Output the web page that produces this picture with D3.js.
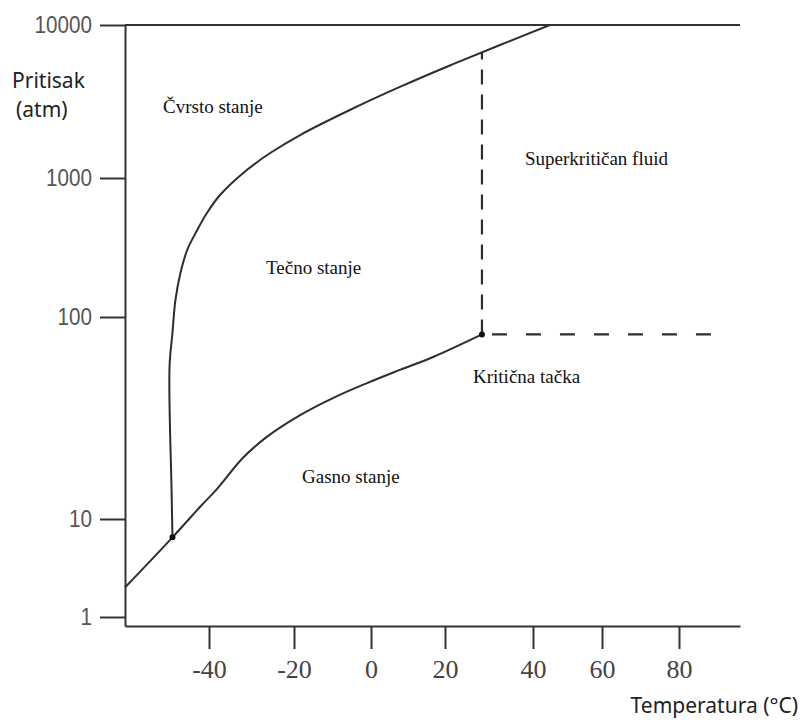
<!DOCTYPE html>
<html>
<head>
<meta charset="utf-8">
<script src="https://cdn.jsdelivr.net/npm/d3@7"></script>
<style>
  body { margin: 0; background: #fff; }
  svg { display: block; }
</style>
</head>
<body>
<svg id="chart"></svg>
<script>
// Podaci (ocitani sa dijagrama)
const tempTicks = [-40, -20, 0, 20, 40, 60, 80];
const pressureTicks = [1, 10, 100, 1000, 10000];

// kriva topljenja (cvrsto / tecno)
const meltT = [-48.7, -48.9, -49.4, -48.7, -48.0, -46.8, -45.2, -42.8, -40.5, -37.4, -31.1, -25.6, -18.4, -5.5, 7.8, 21.1, 32.5, 44.9];
const meltP = [6.5, 13.5, 56.5, 83.4, 132, 207, 303, 423, 560, 755, 1128, 1456, 1910, 2782, 3936, 5433, 7396, 10000];

// kriva isparavanja (gas / tecno)
const vapT = [-60, -48.7, -42.1, -38.1, -32.0, -26.4, -18.4, -9.9, -1.0, 7.8, 16.8, 28.4];
const vapP = [2.0, 6.5, 11.5, 14.1, 20.1, 25.5, 32.7, 39.7, 47.1, 54.7, 63.4, 82];

const triplePoint = { t: -48.7, p: 6.5 };
const criticalPoint = { t: 28.4, p: 82 };
const dashTopP = 6600;   // gde isprekidana linija sece krivu topljenja
const dashEndT = 93;

const regionNames = ["Čvrsto stanje", "Tečno stanje", "Superkritičan fluid", "Kritična tačka", "Gasno stanje"];

// Dimenzije
const width = 800;
const height = 720;

const svg = d3.select("#chart")
    .attr("width", width)
    .attr("height", height);

// Skala X - rucno crtana osa, razmaci nisu jednaki
const x = d3.scaleLinear()
    .domain([-60, -40, -20, 0, 20, 40, 60, 80, 96])
    .range([125, 209, 294, 371, 445, 533, 602, 679, 740]);

// Skala Y - logaritamska, takodje neravnomerna
const yLog = d3.scaleLinear()
    .domain([Math.log10(0.8), 0, 1, 2, 3, 4])
    .range([626, 617, 519, 317, 178, 25]);
const y = p => yLog(Math.log10(p));

const lineColor = "#2e2e2e";

// Osa X
const xAxis = svg.append("g")
    .attr("transform", `translate(0,${y(0.8)})`)
    .call(d3.axisBottom(x)
        .tickValues(tempTicks)
        .tickFormat(d => String(d))
        .tickSize(23)
        .tickSizeOuter(0)
        .tickPadding(11));
xAxis.select(".domain").attr("stroke", "#333").attr("stroke-width", 2);
xAxis.selectAll(".tick line").attr("stroke", "#333").attr("stroke-width", 2);
xAxis.selectAll("text")
    .style("font-family", "'Liberation Serif', 'Times New Roman', serif")
    .style("font-size", "26px")
    .style("fill", "#444");

// Osa Y
const yAxis = svg.append("g")
    .attr("transform", `translate(${x(-60)},0)`)
    .call(d3.axisLeft(yLog)
        .tickValues(pressureTicks.map(Math.log10))
        .tickFormat(d => Math.round(Math.pow(10, d)))
        .tickSize(25)
        .tickSizeOuter(0)
        .tickPadding(8));
yAxis.select(".domain").attr("stroke", "#333").attr("stroke-width", 2);
yAxis.selectAll(".tick line").attr("stroke", "#333").attr("stroke-width", 2);
// uzi font - sabijamo tekst horizontalno
const squeeze = 0.86;
yAxis.selectAll(".tick text")
    .attr("x", -33 / squeeze)
    .attr("transform", `scale(${squeeze},1)`)
    .style("font-family", "'Liberation Sans', Arial, sans-serif")
    .style("font-size", "24px")
    .style("fill", "#555");

// Gornja linija (10000 atm)
svg.append("line")
    .attr("x1", x(-60))
    .attr("x2", x(96))
    .attr("y1", y(10000))
    .attr("y2", y(10000))
    .attr("stroke", "#333")
    .attr("stroke-width", 2);

// Krive
const line = d3.line()
    .x(d => x(d[0]))
    .y(d => y(d[1]))
    .curve(d3.curveCatmullRom.alpha(0.5));

svg.append("path")
    .datum(meltT.map((t, i) => [t, meltP[i]]))
    .attr("d", line)
    .attr("fill", "none")
    .attr("stroke", lineColor)
    .attr("stroke-width", 2);

svg.append("path")
    .datum(vapT.map((t, i) => [t, vapP[i]]))
    .attr("d", line)
    .attr("fill", "none")
    .attr("stroke", lineColor)
    .attr("stroke-width", 2);

// Isprekidane linije od kriticne tacke
svg.append("line")
    .attr("x1", x(criticalPoint.t))
    .attr("x2", x(criticalPoint.t))
    .attr("y1", y(criticalPoint.p))
    .attr("y2", y(dashTopP))
    .attr("stroke", lineColor)
    .attr("stroke-width", 2.2)
    .attr("stroke-dasharray", "15,10");

svg.append("line")
    .attr("x1", x(criticalPoint.t))
    .attr("x2", x(dashEndT))
    .attr("y1", y(criticalPoint.p))
    .attr("y2", y(criticalPoint.p))
    .attr("stroke", lineColor)
    .attr("stroke-width", 2.2)
    .attr("stroke-dasharray", "0,10,15,9");

// Trojna i kriticna tacka
svg.selectAll(".pt")
    .data([triplePoint, criticalPoint])
    .enter().append("circle")
    .attr("class", "pt")
    .attr("cx", d => x(d.t))
    .attr("cy", d => y(d.p))
    .attr("r", 3)
    .attr("fill", "#111");

// Natpisi oblasti
const labelPos = [[163, 113], [266, 274], [525, 165], [473, 383], [302, 483]];
svg.selectAll(".region")
    .data(regionNames)
    .enter().append("text")
    .attr("class", "region")
    .attr("x", (d, i) => labelPos[i][0])
    .attr("y", (d, i) => labelPos[i][1])
    .text(d => d)
    .style("font-family", "'Liberation Serif', 'Times New Roman', serif")
    .style("font-size", "19px")
    .style("fill", "#111");

// Nazivi osa
const axisFont = "'Noto Sans', sans-serif";
svg.append("text")
    .attr("x", 12)
    .attr("y", 88)
    .text("Pritisak")
    .style("font-family", axisFont)
    .style("font-size", "21px")
    .style("fill", "#222");
svg.append("text")
    .attr("x", 16)
    .attr("y", 117)
    .text("(atm)")
    .style("font-family", axisFont)
    .style("font-size", "21px")
    .style("fill", "#222");
svg.append("text")
    .attr("x", 798)
    .attr("y", 713)
    .attr("text-anchor", "end")
    .text("Temperatura (°C)")
    .style("font-family", axisFont)
    .style("font-size", "21px")
    .style("fill", "#222");
</script>
</body>
</html>
